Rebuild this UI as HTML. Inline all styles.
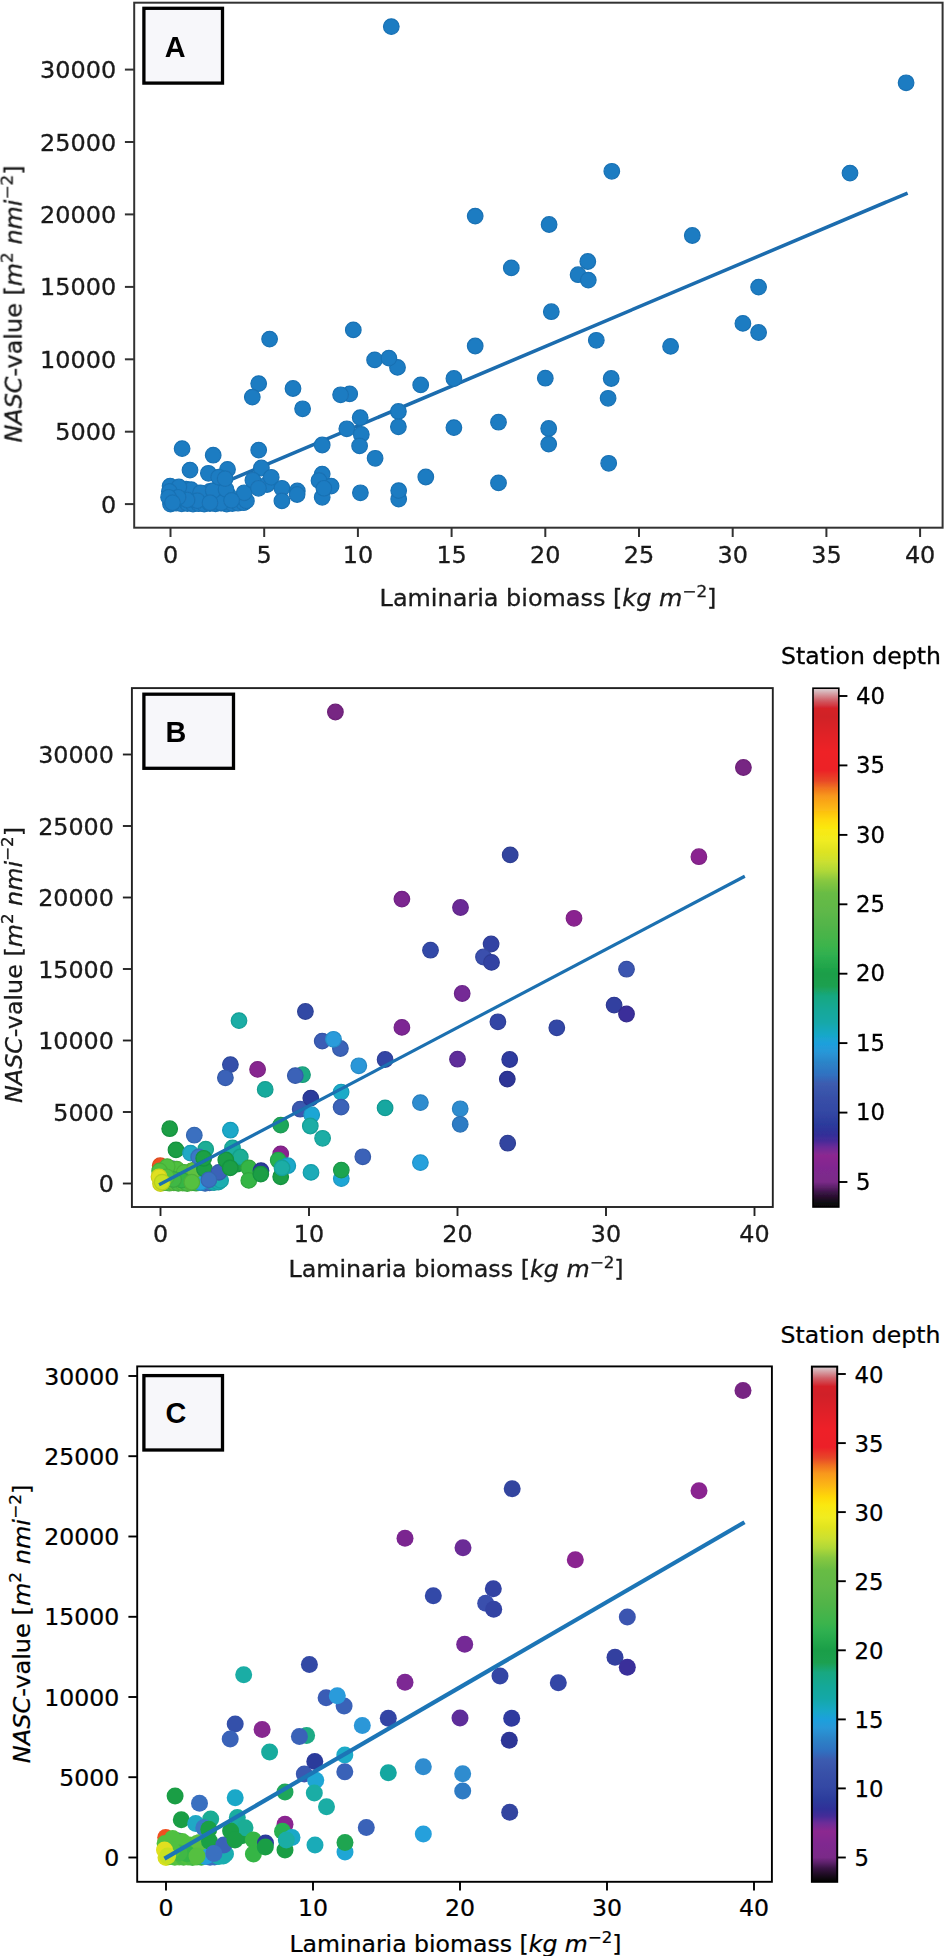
<!DOCTYPE html>
<html><head><meta charset="utf-8"><title>NASC vs Laminaria biomass</title>
<style>html,body{margin:0;padding:0;background:#fff}svg{display:block;font-family:'DejaVu Sans','Liberation Sans',sans-serif}</style>
</head><body>
<svg width="945" height="1956" viewBox="0 0 945 1956">
<rect width="945" height="1956" fill="#fff"/>
<defs><filter id="blurA" x="-5%" y="-5%" width="110%" height="110%"><feGaussianBlur stdDeviation="0.7"/></filter></defs>
<g id="panelA" filter="url(#blurA)">
<line x1="170.5" y1="505.2" x2="906" y2="193.7" stroke="#1a6cae" stroke-width="3.5" stroke-linecap="square"/>
<g>
<circle cx="170.5" cy="504.1" r="7.8" fill="#1c7bc2" stroke="#1a72b4" stroke-width="1.2"/>
<circle cx="176.1" cy="503.2" r="7.8" fill="#1c7bc2" stroke="#1a72b4" stroke-width="1.2"/>
<circle cx="181.7" cy="503.8" r="7.8" fill="#1c7bc2" stroke="#1a72b4" stroke-width="1.2"/>
<circle cx="187.4" cy="503.5" r="7.8" fill="#1c7bc2" stroke="#1a72b4" stroke-width="1.2"/>
<circle cx="193.0" cy="504.0" r="7.8" fill="#1c7bc2" stroke="#1a72b4" stroke-width="1.2"/>
<circle cx="198.6" cy="503.7" r="7.8" fill="#1c7bc2" stroke="#1a72b4" stroke-width="1.2"/>
<circle cx="204.2" cy="504.1" r="7.8" fill="#1c7bc2" stroke="#1a72b4" stroke-width="1.2"/>
<circle cx="209.9" cy="503.5" r="7.8" fill="#1c7bc2" stroke="#1a72b4" stroke-width="1.2"/>
<circle cx="215.5" cy="503.8" r="7.8" fill="#1c7bc2" stroke="#1a72b4" stroke-width="1.2"/>
<circle cx="221.1" cy="503.2" r="7.8" fill="#1c7bc2" stroke="#1a72b4" stroke-width="1.2"/>
<circle cx="226.7" cy="504.0" r="7.8" fill="#1c7bc2" stroke="#1a72b4" stroke-width="1.2"/>
<circle cx="232.3" cy="503.5" r="7.8" fill="#1c7bc2" stroke="#1a72b4" stroke-width="1.2"/>
<circle cx="238.0" cy="503.2" r="7.8" fill="#1c7bc2" stroke="#1a72b4" stroke-width="1.2"/>
<circle cx="243.6" cy="502.7" r="7.8" fill="#1c7bc2" stroke="#1a72b4" stroke-width="1.2"/>
<circle cx="170.1" cy="486.1" r="7.8" fill="#1c7bc2" stroke="#1a72b4" stroke-width="1.2"/>
<circle cx="186.1" cy="489.2" r="7.8" fill="#1c7bc2" stroke="#1a72b4" stroke-width="1.2"/>
<circle cx="187.4" cy="494.0" r="7.8" fill="#1c7bc2" stroke="#1a72b4" stroke-width="1.2"/>
<circle cx="198.6" cy="493.1" r="7.8" fill="#1c7bc2" stroke="#1a72b4" stroke-width="1.2"/>
<circle cx="194.9" cy="499.5" r="7.8" fill="#1c7bc2" stroke="#1a72b4" stroke-width="1.2"/>
<circle cx="208.0" cy="496.6" r="7.8" fill="#1c7bc2" stroke="#1a72b4" stroke-width="1.2"/>
<circle cx="181.7" cy="498.0" r="7.8" fill="#1c7bc2" stroke="#1a72b4" stroke-width="1.2"/>
<circle cx="209.9" cy="491.4" r="7.8" fill="#1c7bc2" stroke="#1a72b4" stroke-width="1.2"/>
<circle cx="174.2" cy="496.9" r="7.8" fill="#1c7bc2" stroke="#1a72b4" stroke-width="1.2"/>
<circle cx="219.2" cy="497.6" r="7.8" fill="#1c7bc2" stroke="#1a72b4" stroke-width="1.2"/>
<circle cx="228.6" cy="495.4" r="7.8" fill="#1c7bc2" stroke="#1a72b4" stroke-width="1.2"/>
<circle cx="191.1" cy="489.6" r="7.8" fill="#1c7bc2" stroke="#1a72b4" stroke-width="1.2"/>
<circle cx="267.0" cy="484.5" r="7.8" fill="#1c7bc2" stroke="#1a72b4" stroke-width="1.2"/>
<circle cx="178.9" cy="487.0" r="7.8" fill="#1c7bc2" stroke="#1a72b4" stroke-width="1.2"/>
<circle cx="169.4" cy="491.5" r="7.8" fill="#1c7bc2" stroke="#1a72b4" stroke-width="1.2"/>
<circle cx="221.1" cy="502.9" r="7.8" fill="#1c7bc2" stroke="#1a72b4" stroke-width="1.2"/>
<circle cx="246.4" cy="500.9" r="7.8" fill="#1c7bc2" stroke="#1a72b4" stroke-width="1.2"/>
<circle cx="200.5" cy="492.8" r="7.8" fill="#1c7bc2" stroke="#1a72b4" stroke-width="1.2"/>
<circle cx="213.2" cy="490.6" r="7.8" fill="#1c7bc2" stroke="#1a72b4" stroke-width="1.2"/>
<circle cx="197.3" cy="500.7" r="7.8" fill="#1c7bc2" stroke="#1a72b4" stroke-width="1.2"/>
<circle cx="187.1" cy="500.0" r="7.8" fill="#1c7bc2" stroke="#1a72b4" stroke-width="1.2"/>
<circle cx="178.1" cy="497.3" r="7.8" fill="#1c7bc2" stroke="#1a72b4" stroke-width="1.2"/>
<circle cx="210.0" cy="502.7" r="7.8" fill="#1c7bc2" stroke="#1a72b4" stroke-width="1.2"/>
<circle cx="168.6" cy="497.3" r="7.8" fill="#1c7bc2" stroke="#1a72b4" stroke-width="1.2"/>
<circle cx="172.5" cy="502.7" r="7.8" fill="#1c7bc2" stroke="#1a72b4" stroke-width="1.2"/>
<circle cx="226.0" cy="489.4" r="7.8" fill="#1c7bc2" stroke="#1a72b4" stroke-width="1.2"/>
<circle cx="244.2" cy="492.8" r="7.8" fill="#1c7bc2" stroke="#1a72b4" stroke-width="1.2"/>
<circle cx="231.6" cy="500.4" r="7.8" fill="#1c7bc2" stroke="#1a72b4" stroke-width="1.2"/>
<circle cx="182.1" cy="448.6" r="7.8" fill="#1c7bc2" stroke="#1a72b4" stroke-width="1.2"/>
<circle cx="213.2" cy="455.2" r="7.8" fill="#1c7bc2" stroke="#1a72b4" stroke-width="1.2"/>
<circle cx="258.7" cy="450.1" r="7.8" fill="#1c7bc2" stroke="#1a72b4" stroke-width="1.2"/>
<circle cx="190.0" cy="470.1" r="7.8" fill="#1c7bc2" stroke="#1a72b4" stroke-width="1.2"/>
<circle cx="208.4" cy="473.3" r="7.8" fill="#1c7bc2" stroke="#1a72b4" stroke-width="1.2"/>
<circle cx="227.5" cy="469.4" r="7.8" fill="#1c7bc2" stroke="#1a72b4" stroke-width="1.2"/>
<circle cx="218.7" cy="477.2" r="7.8" fill="#1c7bc2" stroke="#1a72b4" stroke-width="1.2"/>
<circle cx="225.1" cy="478.6" r="7.8" fill="#1c7bc2" stroke="#1a72b4" stroke-width="1.2"/>
<circle cx="261.4" cy="468.0" r="7.8" fill="#1c7bc2" stroke="#1a72b4" stroke-width="1.2"/>
<circle cx="271.2" cy="477.3" r="7.8" fill="#1c7bc2" stroke="#1a72b4" stroke-width="1.2"/>
<circle cx="252.9" cy="480.2" r="7.8" fill="#1c7bc2" stroke="#1a72b4" stroke-width="1.2"/>
<circle cx="258.5" cy="488.3" r="7.8" fill="#1c7bc2" stroke="#1a72b4" stroke-width="1.2"/>
<circle cx="281.9" cy="488.3" r="7.8" fill="#1c7bc2" stroke="#1a72b4" stroke-width="1.2"/>
<circle cx="281.9" cy="500.9" r="7.8" fill="#1c7bc2" stroke="#1a72b4" stroke-width="1.2"/>
<circle cx="297.3" cy="491.0" r="7.8" fill="#1c7bc2" stroke="#1a72b4" stroke-width="1.2"/>
<circle cx="297.1" cy="494.5" r="7.8" fill="#1c7bc2" stroke="#1a72b4" stroke-width="1.2"/>
<circle cx="322.2" cy="474.1" r="7.8" fill="#1c7bc2" stroke="#1a72b4" stroke-width="1.2"/>
<circle cx="319.0" cy="480.5" r="7.8" fill="#1c7bc2" stroke="#1a72b4" stroke-width="1.2"/>
<circle cx="322.2" cy="497.3" r="7.8" fill="#1c7bc2" stroke="#1a72b4" stroke-width="1.2"/>
<circle cx="331.1" cy="486.1" r="7.8" fill="#1c7bc2" stroke="#1a72b4" stroke-width="1.2"/>
<circle cx="323.9" cy="488.3" r="7.8" fill="#1c7bc2" stroke="#1a72b4" stroke-width="1.2"/>
<circle cx="269.6" cy="339.1" r="7.8" fill="#1c7bc2" stroke="#1a72b4" stroke-width="1.2"/>
<circle cx="353.3" cy="329.9" r="7.8" fill="#1c7bc2" stroke="#1a72b4" stroke-width="1.2"/>
<circle cx="374.6" cy="359.9" r="7.8" fill="#1c7bc2" stroke="#1a72b4" stroke-width="1.2"/>
<circle cx="397.5" cy="367.4" r="7.8" fill="#1c7bc2" stroke="#1a72b4" stroke-width="1.2"/>
<circle cx="388.9" cy="358.1" r="7.8" fill="#1c7bc2" stroke="#1a72b4" stroke-width="1.2"/>
<circle cx="420.7" cy="384.9" r="7.8" fill="#1c7bc2" stroke="#1a72b4" stroke-width="1.2"/>
<circle cx="258.7" cy="383.6" r="7.8" fill="#1c7bc2" stroke="#1a72b4" stroke-width="1.2"/>
<circle cx="252.3" cy="397.1" r="7.8" fill="#1c7bc2" stroke="#1a72b4" stroke-width="1.2"/>
<circle cx="293.0" cy="388.5" r="7.8" fill="#1c7bc2" stroke="#1a72b4" stroke-width="1.2"/>
<circle cx="302.6" cy="408.8" r="7.8" fill="#1c7bc2" stroke="#1a72b4" stroke-width="1.2"/>
<circle cx="349.7" cy="393.9" r="7.8" fill="#1c7bc2" stroke="#1a72b4" stroke-width="1.2"/>
<circle cx="340.6" cy="394.8" r="7.8" fill="#1c7bc2" stroke="#1a72b4" stroke-width="1.2"/>
<circle cx="346.8" cy="428.8" r="7.8" fill="#1c7bc2" stroke="#1a72b4" stroke-width="1.2"/>
<circle cx="360.2" cy="417.6" r="7.8" fill="#1c7bc2" stroke="#1a72b4" stroke-width="1.2"/>
<circle cx="398.4" cy="411.5" r="7.8" fill="#1c7bc2" stroke="#1a72b4" stroke-width="1.2"/>
<circle cx="398.4" cy="426.8" r="7.8" fill="#1c7bc2" stroke="#1a72b4" stroke-width="1.2"/>
<circle cx="361.3" cy="434.4" r="7.8" fill="#1c7bc2" stroke="#1a72b4" stroke-width="1.2"/>
<circle cx="322.2" cy="445.0" r="7.8" fill="#1c7bc2" stroke="#1a72b4" stroke-width="1.2"/>
<circle cx="359.6" cy="445.9" r="7.8" fill="#1c7bc2" stroke="#1a72b4" stroke-width="1.2"/>
<circle cx="375.1" cy="458.3" r="7.8" fill="#1c7bc2" stroke="#1a72b4" stroke-width="1.2"/>
<circle cx="425.8" cy="477.0" r="7.8" fill="#1c7bc2" stroke="#1a72b4" stroke-width="1.2"/>
<circle cx="360.4" cy="492.8" r="7.8" fill="#1c7bc2" stroke="#1a72b4" stroke-width="1.2"/>
<circle cx="398.7" cy="499.1" r="7.8" fill="#1c7bc2" stroke="#1a72b4" stroke-width="1.2"/>
<circle cx="398.7" cy="490.6" r="7.8" fill="#1c7bc2" stroke="#1a72b4" stroke-width="1.2"/>
<circle cx="906.1" cy="82.8" r="7.8" fill="#1c7bc2" stroke="#1a72b4" stroke-width="1.2"/>
<circle cx="850.0" cy="173.1" r="7.8" fill="#1c7bc2" stroke="#1a72b4" stroke-width="1.2"/>
<circle cx="611.8" cy="171.3" r="7.8" fill="#1c7bc2" stroke="#1a72b4" stroke-width="1.2"/>
<circle cx="549.1" cy="224.5" r="7.8" fill="#1c7bc2" stroke="#1a72b4" stroke-width="1.2"/>
<circle cx="692.3" cy="235.5" r="7.8" fill="#1c7bc2" stroke="#1a72b4" stroke-width="1.2"/>
<circle cx="475.2" cy="216.1" r="7.8" fill="#1c7bc2" stroke="#1a72b4" stroke-width="1.2"/>
<circle cx="511.3" cy="267.9" r="7.8" fill="#1c7bc2" stroke="#1a72b4" stroke-width="1.2"/>
<circle cx="587.8" cy="261.5" r="7.8" fill="#1c7bc2" stroke="#1a72b4" stroke-width="1.2"/>
<circle cx="578.1" cy="274.7" r="7.8" fill="#1c7bc2" stroke="#1a72b4" stroke-width="1.2"/>
<circle cx="588.3" cy="280.1" r="7.8" fill="#1c7bc2" stroke="#1a72b4" stroke-width="1.2"/>
<circle cx="758.6" cy="287.1" r="7.8" fill="#1c7bc2" stroke="#1a72b4" stroke-width="1.2"/>
<circle cx="551.3" cy="311.7" r="7.8" fill="#1c7bc2" stroke="#1a72b4" stroke-width="1.2"/>
<circle cx="742.9" cy="323.4" r="7.8" fill="#1c7bc2" stroke="#1a72b4" stroke-width="1.2"/>
<circle cx="758.6" cy="332.5" r="7.8" fill="#1c7bc2" stroke="#1a72b4" stroke-width="1.2"/>
<circle cx="475.2" cy="346.0" r="7.8" fill="#1c7bc2" stroke="#1a72b4" stroke-width="1.2"/>
<circle cx="596.3" cy="340.3" r="7.8" fill="#1c7bc2" stroke="#1a72b4" stroke-width="1.2"/>
<circle cx="670.6" cy="346.4" r="7.8" fill="#1c7bc2" stroke="#1a72b4" stroke-width="1.2"/>
<circle cx="453.9" cy="378.5" r="7.8" fill="#1c7bc2" stroke="#1a72b4" stroke-width="1.2"/>
<circle cx="545.3" cy="378.2" r="7.8" fill="#1c7bc2" stroke="#1a72b4" stroke-width="1.2"/>
<circle cx="611.2" cy="378.5" r="7.8" fill="#1c7bc2" stroke="#1a72b4" stroke-width="1.2"/>
<circle cx="608.1" cy="398.3" r="7.8" fill="#1c7bc2" stroke="#1a72b4" stroke-width="1.2"/>
<circle cx="453.9" cy="427.6" r="7.8" fill="#1c7bc2" stroke="#1a72b4" stroke-width="1.2"/>
<circle cx="498.5" cy="422.2" r="7.8" fill="#1c7bc2" stroke="#1a72b4" stroke-width="1.2"/>
<circle cx="548.7" cy="428.5" r="7.8" fill="#1c7bc2" stroke="#1a72b4" stroke-width="1.2"/>
<circle cx="548.7" cy="444.1" r="7.8" fill="#1c7bc2" stroke="#1a72b4" stroke-width="1.2"/>
<circle cx="608.7" cy="463.3" r="7.8" fill="#1c7bc2" stroke="#1a72b4" stroke-width="1.2"/>
<circle cx="498.5" cy="482.9" r="7.8" fill="#1c7bc2" stroke="#1a72b4" stroke-width="1.2"/>
<circle cx="391.3" cy="26.6" r="7.8" fill="#1c7bc2" stroke="#1a72b4" stroke-width="1.2"/>
</g>
<rect x="134.2" y="2.7" width="808.4000000000001" height="525.0" fill="none" stroke="#333" stroke-width="2"/>
<line x1="170.5" y1="527.7" x2="170.5" y2="537.0" stroke="#333" stroke-width="2"/>
<text transform="translate(170.5,563.2) scale(1.05,1)" text-anchor="middle" font-size="22.8" fill="#1a1a1a" stroke="#1a1a1a" stroke-width="0.3">0</text>
<line x1="264.2" y1="527.7" x2="264.2" y2="537.0" stroke="#333" stroke-width="2"/>
<text transform="translate(264.2,563.2) scale(1.05,1)" text-anchor="middle" font-size="22.8" fill="#1a1a1a" stroke="#1a1a1a" stroke-width="0.3">5</text>
<line x1="357.9" y1="527.7" x2="357.9" y2="537.0" stroke="#333" stroke-width="2"/>
<text transform="translate(357.9,563.2) scale(1.05,1)" text-anchor="middle" font-size="22.8" fill="#1a1a1a" stroke="#1a1a1a" stroke-width="0.3">10</text>
<line x1="451.6" y1="527.7" x2="451.6" y2="537.0" stroke="#333" stroke-width="2"/>
<text transform="translate(451.6,563.2) scale(1.05,1)" text-anchor="middle" font-size="22.8" fill="#1a1a1a" stroke="#1a1a1a" stroke-width="0.3">15</text>
<line x1="545.3" y1="527.7" x2="545.3" y2="537.0" stroke="#333" stroke-width="2"/>
<text transform="translate(545.3,563.2) scale(1.05,1)" text-anchor="middle" font-size="22.8" fill="#1a1a1a" stroke="#1a1a1a" stroke-width="0.3">20</text>
<line x1="639.0" y1="527.7" x2="639.0" y2="537.0" stroke="#333" stroke-width="2"/>
<text transform="translate(639.0,563.2) scale(1.05,1)" text-anchor="middle" font-size="22.8" fill="#1a1a1a" stroke="#1a1a1a" stroke-width="0.3">25</text>
<line x1="732.7" y1="527.7" x2="732.7" y2="537.0" stroke="#333" stroke-width="2"/>
<text transform="translate(732.7,563.2) scale(1.05,1)" text-anchor="middle" font-size="22.8" fill="#1a1a1a" stroke="#1a1a1a" stroke-width="0.3">30</text>
<line x1="826.4" y1="527.7" x2="826.4" y2="537.0" stroke="#333" stroke-width="2"/>
<text transform="translate(826.4,563.2) scale(1.05,1)" text-anchor="middle" font-size="22.8" fill="#1a1a1a" stroke="#1a1a1a" stroke-width="0.3">35</text>
<line x1="920.1" y1="527.7" x2="920.1" y2="537.0" stroke="#333" stroke-width="2"/>
<text transform="translate(920.1,563.2) scale(1.05,1)" text-anchor="middle" font-size="22.8" fill="#1a1a1a" stroke="#1a1a1a" stroke-width="0.3">40</text>
<line x1="124.89999999999999" y1="504.1" x2="134.2" y2="504.1" stroke="#333" stroke-width="2"/>
<text transform="translate(116.19999999999999,512.6) scale(1.05,1)" text-anchor="end" font-size="22.8" fill="#1a1a1a" stroke="#1a1a1a" stroke-width="0.3">0</text>
<line x1="124.89999999999999" y1="431.7" x2="134.2" y2="431.7" stroke="#333" stroke-width="2"/>
<text transform="translate(116.19999999999999,440.2) scale(1.05,1)" text-anchor="end" font-size="22.8" fill="#1a1a1a" stroke="#1a1a1a" stroke-width="0.3">5000</text>
<line x1="124.89999999999999" y1="359.3" x2="134.2" y2="359.3" stroke="#333" stroke-width="2"/>
<text transform="translate(116.19999999999999,367.8) scale(1.05,1)" text-anchor="end" font-size="22.8" fill="#1a1a1a" stroke="#1a1a1a" stroke-width="0.3">10000</text>
<line x1="124.89999999999999" y1="286.9" x2="134.2" y2="286.9" stroke="#333" stroke-width="2"/>
<text transform="translate(116.19999999999999,295.4) scale(1.05,1)" text-anchor="end" font-size="22.8" fill="#1a1a1a" stroke="#1a1a1a" stroke-width="0.3">15000</text>
<line x1="124.89999999999999" y1="214.4" x2="134.2" y2="214.4" stroke="#333" stroke-width="2"/>
<text transform="translate(116.19999999999999,222.9) scale(1.05,1)" text-anchor="end" font-size="22.8" fill="#1a1a1a" stroke="#1a1a1a" stroke-width="0.3">20000</text>
<line x1="124.89999999999999" y1="142.0" x2="134.2" y2="142.0" stroke="#333" stroke-width="2"/>
<text transform="translate(116.19999999999999,150.5) scale(1.05,1)" text-anchor="end" font-size="22.8" fill="#1a1a1a" stroke="#1a1a1a" stroke-width="0.3">25000</text>
<line x1="124.89999999999999" y1="69.6" x2="134.2" y2="69.6" stroke="#333" stroke-width="2"/>
<text transform="translate(116.19999999999999,78.1) scale(1.05,1)" text-anchor="end" font-size="22.8" fill="#1a1a1a" stroke="#1a1a1a" stroke-width="0.3">30000</text>
<text transform="translate(548,605.6) scale(1.05,1)" text-anchor="middle" font-size="22.8" fill="#1a1a1a" stroke="#1a1a1a" stroke-width="0.3">Laminaria biomass [<tspan font-style="italic">kg m</tspan><tspan dy="-9" font-size="16.0">−2</tspan><tspan dy="9">]</tspan></text>
<text transform="translate(21.6,304) rotate(-90) scale(1.05,1)" text-anchor="middle" font-size="22.8" fill="#1a1a1a" stroke="#1a1a1a" stroke-width="0.3"><tspan font-style="italic">NASC</tspan>-value [<tspan font-style="italic">m</tspan><tspan dy="-9" font-size="16.0">2</tspan><tspan dy="9" font-style="italic"> nmi</tspan><tspan dy="-9" font-size="16.0">−2</tspan><tspan dy="9">]</tspan></text>
<rect x="143.9" y="8.3" width="78.6" height="74.8" fill="#f7f7fa" stroke="#000" stroke-width="3.3"/>
<text x="175.2" y="56.6" text-anchor="middle" font-family="'Liberation Sans',Arial,sans-serif" font-weight="bold" font-size="28.8" fill="#000">A</text>
</g>
<defs><filter id="blurB" x="-5%" y="-5%" width="110%" height="110%"><feGaussianBlur stdDeviation="0.7"/></filter></defs>
<g id="panelB" filter="url(#blurB)">
<g>
<circle cx="160.5" cy="1183.5" r="7.8" fill="#d8e020" stroke="#c6ce1d" stroke-width="1.2"/>
<circle cx="165.0" cy="1182.6" r="7.8" fill="#58c040" stroke="#50b03a" stroke-width="1.2"/>
<circle cx="169.4" cy="1183.2" r="7.8" fill="#50c040" stroke="#49b03a" stroke-width="1.2"/>
<circle cx="173.9" cy="1182.9" r="7.8" fill="#58c040" stroke="#50b03a" stroke-width="1.2"/>
<circle cx="178.3" cy="1183.4" r="7.8" fill="#48bc44" stroke="#42ac3e" stroke-width="1.2"/>
<circle cx="182.8" cy="1183.1" r="7.8" fill="#50c040" stroke="#49b03a" stroke-width="1.2"/>
<circle cx="187.2" cy="1183.5" r="7.8" fill="#48bc44" stroke="#42ac3e" stroke-width="1.2"/>
<circle cx="191.7" cy="1182.9" r="7.8" fill="#58c040" stroke="#50b03a" stroke-width="1.2"/>
<circle cx="196.1" cy="1183.2" r="7.8" fill="#35b545" stroke="#30a63f" stroke-width="1.2"/>
<circle cx="200.6" cy="1182.6" r="7.8" fill="#25a0dc" stroke="#2293ca" stroke-width="1.2"/>
<circle cx="205.1" cy="1183.4" r="7.8" fill="#3a70c0" stroke="#3567b0" stroke-width="1.2"/>
<circle cx="209.5" cy="1182.9" r="7.8" fill="#3a70c0" stroke="#3567b0" stroke-width="1.2"/>
<circle cx="214.0" cy="1182.6" r="7.8" fill="#1aadb0" stroke="#179fa1" stroke-width="1.2"/>
<circle cx="218.4" cy="1182.1" r="7.8" fill="#1aadb0" stroke="#179fa1" stroke-width="1.2"/>
<circle cx="160.2" cy="1165.7" r="7.8" fill="#f05020" stroke="#dc491d" stroke-width="1.2"/>
<circle cx="172.8" cy="1168.8" r="7.8" fill="#2b3b9b" stroke="#27368e" stroke-width="1.2"/>
<circle cx="173.9" cy="1173.5" r="7.8" fill="#50c040" stroke="#49b03a" stroke-width="1.2"/>
<circle cx="182.8" cy="1172.6" r="7.8" fill="#58c040" stroke="#50b03a" stroke-width="1.2"/>
<circle cx="179.8" cy="1178.9" r="7.8" fill="#50c040" stroke="#49b03a" stroke-width="1.2"/>
<circle cx="190.2" cy="1176.1" r="7.8" fill="#58c040" stroke="#50b03a" stroke-width="1.2"/>
<circle cx="169.4" cy="1177.5" r="7.8" fill="#50c040" stroke="#49b03a" stroke-width="1.2"/>
<circle cx="191.7" cy="1170.9" r="7.8" fill="#58c040" stroke="#50b03a" stroke-width="1.2"/>
<circle cx="163.5" cy="1176.3" r="7.8" fill="#58c040" stroke="#50b03a" stroke-width="1.2"/>
<circle cx="199.1" cy="1177.1" r="7.8" fill="#35b545" stroke="#30a63f" stroke-width="1.2"/>
<circle cx="206.5" cy="1174.9" r="7.8" fill="#1aa045" stroke="#17933f" stroke-width="1.2"/>
<circle cx="176.8" cy="1169.2" r="7.8" fill="#50c040" stroke="#49b03a" stroke-width="1.2"/>
<circle cx="237.0" cy="1164.2" r="7.8" fill="#1a9e45" stroke="#17913f" stroke-width="1.2"/>
<circle cx="167.2" cy="1166.6" r="7.8" fill="#50c040" stroke="#49b03a" stroke-width="1.2"/>
<circle cx="159.6" cy="1171.0" r="7.8" fill="#50c040" stroke="#49b03a" stroke-width="1.2"/>
<circle cx="200.6" cy="1182.3" r="7.8" fill="#25a0dc" stroke="#2293ca" stroke-width="1.2"/>
<circle cx="220.6" cy="1180.4" r="7.8" fill="#1aadb0" stroke="#179fa1" stroke-width="1.2"/>
<circle cx="184.2" cy="1172.4" r="7.8" fill="#50c040" stroke="#49b03a" stroke-width="1.2"/>
<circle cx="194.3" cy="1170.1" r="7.8" fill="#60c040" stroke="#58b03a" stroke-width="1.2"/>
<circle cx="181.7" cy="1180.1" r="7.8" fill="#35b545" stroke="#30a63f" stroke-width="1.2"/>
<circle cx="173.6" cy="1179.5" r="7.8" fill="#40b845" stroke="#3aa93f" stroke-width="1.2"/>
<circle cx="166.6" cy="1176.8" r="7.8" fill="#50c040" stroke="#49b03a" stroke-width="1.2"/>
<circle cx="191.8" cy="1182.2" r="7.8" fill="#55c040" stroke="#4eb03a" stroke-width="1.2"/>
<circle cx="159.0" cy="1176.8" r="7.8" fill="#e0e020" stroke="#cece1d" stroke-width="1.2"/>
<circle cx="162.1" cy="1182.2" r="7.8" fill="#c8e020" stroke="#b8ce1d" stroke-width="1.2"/>
<circle cx="204.4" cy="1169.0" r="7.8" fill="#1aa045" stroke="#17933f" stroke-width="1.2"/>
<circle cx="218.9" cy="1172.4" r="7.8" fill="#3a62b8" stroke="#355aa9" stroke-width="1.2"/>
<circle cx="208.9" cy="1179.8" r="7.8" fill="#3a70c0" stroke="#3567b0" stroke-width="1.2"/>
<circle cx="169.7" cy="1128.7" r="7.8" fill="#1a9e45" stroke="#17913f" stroke-width="1.2"/>
<circle cx="194.3" cy="1135.2" r="7.8" fill="#3a70c0" stroke="#3567b0" stroke-width="1.2"/>
<circle cx="230.4" cy="1130.2" r="7.8" fill="#1aa8c8" stroke="#179ab8" stroke-width="1.2"/>
<circle cx="176.0" cy="1149.9" r="7.8" fill="#1a9e45" stroke="#17913f" stroke-width="1.2"/>
<circle cx="190.5" cy="1153.1" r="7.8" fill="#20a8c5" stroke="#1d9ab5" stroke-width="1.2"/>
<circle cx="205.7" cy="1149.2" r="7.8" fill="#1aad95" stroke="#179f89" stroke-width="1.2"/>
<circle cx="198.7" cy="1156.9" r="7.8" fill="#3a78c5" stroke="#356eb5" stroke-width="1.2"/>
<circle cx="203.7" cy="1158.3" r="7.8" fill="#1aa045" stroke="#17933f" stroke-width="1.2"/>
<circle cx="232.5" cy="1147.9" r="7.8" fill="#1aada0" stroke="#179f93" stroke-width="1.2"/>
<circle cx="240.3" cy="1157.0" r="7.8" fill="#1aad95" stroke="#179f89" stroke-width="1.2"/>
<circle cx="225.8" cy="1159.9" r="7.8" fill="#1a9e45" stroke="#17913f" stroke-width="1.2"/>
<circle cx="230.2" cy="1167.9" r="7.8" fill="#1a9e45" stroke="#17913f" stroke-width="1.2"/>
<circle cx="248.8" cy="1167.9" r="7.8" fill="#35b545" stroke="#30a63f" stroke-width="1.2"/>
<circle cx="248.8" cy="1180.4" r="7.8" fill="#35b545" stroke="#30a63f" stroke-width="1.2"/>
<circle cx="261.0" cy="1170.6" r="7.8" fill="#2b3b9b" stroke="#27368e" stroke-width="1.2"/>
<circle cx="260.8" cy="1174.1" r="7.8" fill="#1a9e45" stroke="#17913f" stroke-width="1.2"/>
<circle cx="280.7" cy="1153.9" r="7.8" fill="#8a2490" stroke="#7e2184" stroke-width="1.2"/>
<circle cx="278.2" cy="1160.2" r="7.8" fill="#28b050" stroke="#24a149" stroke-width="1.2"/>
<circle cx="280.7" cy="1176.8" r="7.8" fill="#1a9e45" stroke="#17913f" stroke-width="1.2"/>
<circle cx="287.8" cy="1165.7" r="7.8" fill="#1aa8c8" stroke="#179ab8" stroke-width="1.2"/>
<circle cx="282.0" cy="1167.9" r="7.8" fill="#1aada5" stroke="#179f97" stroke-width="1.2"/>
<circle cx="239.0" cy="1020.6" r="7.8" fill="#1aada5" stroke="#179f97" stroke-width="1.2"/>
<circle cx="305.4" cy="1011.5" r="7.8" fill="#3349a5" stroke="#2e4397" stroke-width="1.2"/>
<circle cx="322.2" cy="1041.1" r="7.8" fill="#3a5cb5" stroke="#3554a6" stroke-width="1.2"/>
<circle cx="340.4" cy="1048.5" r="7.8" fill="#3a62b8" stroke="#355aa9" stroke-width="1.2"/>
<circle cx="333.5" cy="1039.3" r="7.8" fill="#2a9bdb" stroke="#268ec9" stroke-width="1.2"/>
<circle cx="358.8" cy="1065.8" r="7.8" fill="#2b97d8" stroke="#278ac6" stroke-width="1.2"/>
<circle cx="230.4" cy="1064.6" r="7.8" fill="#3450aa" stroke="#2f499c" stroke-width="1.2"/>
<circle cx="225.4" cy="1077.8" r="7.8" fill="#3a62b8" stroke="#355aa9" stroke-width="1.2"/>
<circle cx="257.6" cy="1069.4" r="7.8" fill="#872890" stroke="#7c2484" stroke-width="1.2"/>
<circle cx="265.2" cy="1089.4" r="7.8" fill="#17ab9d" stroke="#159d90" stroke-width="1.2"/>
<circle cx="302.5" cy="1074.7" r="7.8" fill="#1daa85" stroke="#1a9c7a" stroke-width="1.2"/>
<circle cx="295.3" cy="1075.6" r="7.8" fill="#3a62b8" stroke="#355aa9" stroke-width="1.2"/>
<circle cx="300.2" cy="1109.2" r="7.8" fill="#3a58b0" stroke="#3550a1" stroke-width="1.2"/>
<circle cx="310.8" cy="1098.1" r="7.8" fill="#2b3b9b" stroke="#27368e" stroke-width="1.2"/>
<circle cx="341.1" cy="1092.1" r="7.8" fill="#1dabc8" stroke="#1a9db8" stroke-width="1.2"/>
<circle cx="341.1" cy="1107.1" r="7.8" fill="#3a62b8" stroke="#355aa9" stroke-width="1.2"/>
<circle cx="311.7" cy="1114.7" r="7.8" fill="#1fa6d5" stroke="#1c98c3" stroke-width="1.2"/>
<circle cx="280.7" cy="1125.1" r="7.8" fill="#1fa75a" stroke="#1c9952" stroke-width="1.2"/>
<circle cx="310.3" cy="1126.0" r="7.8" fill="#1aada5" stroke="#179f97" stroke-width="1.2"/>
<circle cx="322.6" cy="1138.3" r="7.8" fill="#1aada5" stroke="#179f97" stroke-width="1.2"/>
<circle cx="362.8" cy="1156.8" r="7.8" fill="#3a62b8" stroke="#355aa9" stroke-width="1.2"/>
<circle cx="311.0" cy="1172.4" r="7.8" fill="#1aabb8" stroke="#179da9" stroke-width="1.2"/>
<circle cx="341.3" cy="1178.6" r="7.8" fill="#1fa6d5" stroke="#1c98c3" stroke-width="1.2"/>
<circle cx="341.3" cy="1170.1" r="7.8" fill="#1fa550" stroke="#1c9749" stroke-width="1.2"/>
<circle cx="743.4" cy="767.5" r="7.8" fill="#772583" stroke="#6d2278" stroke-width="1.2"/>
<circle cx="698.9" cy="856.7" r="7.8" fill="#8a2490" stroke="#7e2184" stroke-width="1.2"/>
<circle cx="510.2" cy="854.9" r="7.8" fill="#33459f" stroke="#2e3f92" stroke-width="1.2"/>
<circle cx="460.5" cy="907.5" r="7.8" fill="#6b2b96" stroke="#62278a" stroke-width="1.2"/>
<circle cx="574.0" cy="918.3" r="7.8" fill="#8a2490" stroke="#7e2184" stroke-width="1.2"/>
<circle cx="401.9" cy="899.1" r="7.8" fill="#7b2590" stroke="#712284" stroke-width="1.2"/>
<circle cx="430.5" cy="950.2" r="7.8" fill="#3349a8" stroke="#2e439a" stroke-width="1.2"/>
<circle cx="491.1" cy="944.0" r="7.8" fill="#3343a3" stroke="#2e3d95" stroke-width="1.2"/>
<circle cx="483.5" cy="957.0" r="7.8" fill="#3a4fad" stroke="#35489f" stroke-width="1.2"/>
<circle cx="491.5" cy="962.4" r="7.8" fill="#3343a3" stroke="#2e3d95" stroke-width="1.2"/>
<circle cx="626.5" cy="969.2" r="7.8" fill="#3b55b0" stroke="#364ea1" stroke-width="1.2"/>
<circle cx="462.2" cy="993.5" r="7.8" fill="#752996" stroke="#6b258a" stroke-width="1.2"/>
<circle cx="614.1" cy="1005.1" r="7.8" fill="#3340a0" stroke="#2e3a93" stroke-width="1.2"/>
<circle cx="626.5" cy="1014.0" r="7.8" fill="#3a2f9a" stroke="#352b8d" stroke-width="1.2"/>
<circle cx="401.9" cy="1027.4" r="7.8" fill="#7d2894" stroke="#732488" stroke-width="1.2"/>
<circle cx="497.9" cy="1021.8" r="7.8" fill="#3345a5" stroke="#2e3f97" stroke-width="1.2"/>
<circle cx="556.8" cy="1027.8" r="7.8" fill="#3346a6" stroke="#2e4098" stroke-width="1.2"/>
<circle cx="385.1" cy="1059.5" r="7.8" fill="#3345a5" stroke="#2e3f97" stroke-width="1.2"/>
<circle cx="457.5" cy="1059.2" r="7.8" fill="#5e2d9a" stroke="#56298d" stroke-width="1.2"/>
<circle cx="509.7" cy="1059.5" r="7.8" fill="#2f3a9f" stroke="#2b3592" stroke-width="1.2"/>
<circle cx="507.3" cy="1079.1" r="7.8" fill="#2d3596" stroke="#29308a" stroke-width="1.2"/>
<circle cx="385.1" cy="1107.9" r="7.8" fill="#14a7a0" stroke="#129993" stroke-width="1.2"/>
<circle cx="420.4" cy="1102.6" r="7.8" fill="#2f8ccf" stroke="#2b80be" stroke-width="1.2"/>
<circle cx="460.2" cy="1108.8" r="7.8" fill="#2f8ccf" stroke="#2b80be" stroke-width="1.2"/>
<circle cx="460.2" cy="1124.3" r="7.8" fill="#2e7bc4" stroke="#2a71b4" stroke-width="1.2"/>
<circle cx="507.7" cy="1143.2" r="7.8" fill="#3345a0" stroke="#2e3f93" stroke-width="1.2"/>
<circle cx="420.4" cy="1162.6" r="7.8" fill="#25a0dc" stroke="#2293ca" stroke-width="1.2"/>
<circle cx="335.4" cy="712.0" r="7.8" fill="#772583" stroke="#6d2278" stroke-width="1.2"/>
</g>
<line x1="160.5" y1="1184" x2="743.4" y2="877" stroke="#1a6fb0" stroke-width="3.2" stroke-linecap="square"/>
<rect x="131.9" y="688.1" width="640.9" height="518.9" fill="none" stroke="#222" stroke-width="1.9"/>
<line x1="160.5" y1="1207.0" x2="160.5" y2="1216.0" stroke="#222" stroke-width="1.9"/>
<text transform="translate(160.5,1241.9) scale(1.045,1)" text-anchor="middle" font-size="22.8" fill="#1a1a1a" stroke="#1a1a1a" stroke-width="0.3">0</text>
<line x1="309.0" y1="1207.0" x2="309.0" y2="1216.0" stroke="#222" stroke-width="1.9"/>
<text transform="translate(309.0,1241.9) scale(1.045,1)" text-anchor="middle" font-size="22.8" fill="#1a1a1a" stroke="#1a1a1a" stroke-width="0.3">10</text>
<line x1="457.5" y1="1207.0" x2="457.5" y2="1216.0" stroke="#222" stroke-width="1.9"/>
<text transform="translate(457.5,1241.9) scale(1.045,1)" text-anchor="middle" font-size="22.8" fill="#1a1a1a" stroke="#1a1a1a" stroke-width="0.3">20</text>
<line x1="606.0" y1="1207.0" x2="606.0" y2="1216.0" stroke="#222" stroke-width="1.9"/>
<text transform="translate(606.0,1241.9) scale(1.045,1)" text-anchor="middle" font-size="22.8" fill="#1a1a1a" stroke="#1a1a1a" stroke-width="0.3">30</text>
<line x1="754.5" y1="1207.0" x2="754.5" y2="1216.0" stroke="#222" stroke-width="1.9"/>
<text transform="translate(754.5,1241.9) scale(1.045,1)" text-anchor="middle" font-size="22.8" fill="#1a1a1a" stroke="#1a1a1a" stroke-width="0.3">40</text>
<line x1="122.9" y1="1183.5" x2="131.9" y2="1183.5" stroke="#222" stroke-width="1.9"/>
<text transform="translate(113.9,1192.0) scale(1.045,1)" text-anchor="end" font-size="22.8" fill="#1a1a1a" stroke="#1a1a1a" stroke-width="0.3">0</text>
<line x1="122.9" y1="1112.0" x2="131.9" y2="1112.0" stroke="#222" stroke-width="1.9"/>
<text transform="translate(113.9,1120.5) scale(1.045,1)" text-anchor="end" font-size="22.8" fill="#1a1a1a" stroke="#1a1a1a" stroke-width="0.3">5000</text>
<line x1="122.9" y1="1040.5" x2="131.9" y2="1040.5" stroke="#222" stroke-width="1.9"/>
<text transform="translate(113.9,1049.0) scale(1.045,1)" text-anchor="end" font-size="22.8" fill="#1a1a1a" stroke="#1a1a1a" stroke-width="0.3">10000</text>
<line x1="122.9" y1="969.0" x2="131.9" y2="969.0" stroke="#222" stroke-width="1.9"/>
<text transform="translate(113.9,977.5) scale(1.045,1)" text-anchor="end" font-size="22.8" fill="#1a1a1a" stroke="#1a1a1a" stroke-width="0.3">15000</text>
<line x1="122.9" y1="897.5" x2="131.9" y2="897.5" stroke="#222" stroke-width="1.9"/>
<text transform="translate(113.9,906.0) scale(1.045,1)" text-anchor="end" font-size="22.8" fill="#1a1a1a" stroke="#1a1a1a" stroke-width="0.3">20000</text>
<line x1="122.9" y1="826.0" x2="131.9" y2="826.0" stroke="#222" stroke-width="1.9"/>
<text transform="translate(113.9,834.5) scale(1.045,1)" text-anchor="end" font-size="22.8" fill="#1a1a1a" stroke="#1a1a1a" stroke-width="0.3">25000</text>
<line x1="122.9" y1="754.5" x2="131.9" y2="754.5" stroke="#222" stroke-width="1.9"/>
<text transform="translate(113.9,763.0) scale(1.045,1)" text-anchor="end" font-size="22.8" fill="#1a1a1a" stroke="#1a1a1a" stroke-width="0.3">30000</text>
<text transform="translate(456,1277.2) scale(1.045,1)" text-anchor="middle" font-size="22.8" fill="#1a1a1a" stroke="#1a1a1a" stroke-width="0.3">Laminaria biomass [<tspan font-style="italic">kg m</tspan><tspan dy="-9" font-size="16.0">−2</tspan><tspan dy="9">]</tspan></text>
<text transform="translate(21.6,965) rotate(-90) scale(1.045,1)" text-anchor="middle" font-size="22.8" fill="#1a1a1a" stroke="#1a1a1a" stroke-width="0.3"><tspan font-style="italic">NASC</tspan>-value [<tspan font-style="italic">m</tspan><tspan dy="-9" font-size="16.0">2</tspan><tspan dy="9" font-style="italic"> nmi</tspan><tspan dy="-9" font-size="16.0">−2</tspan><tspan dy="9">]</tspan></text>
<rect x="143.9" y="694.2" width="89.6" height="74.1" fill="#f7f7fa" stroke="#000" stroke-width="3.3"/>
<text x="175.9" y="741.9" text-anchor="middle" font-family="'Liberation Sans',Arial,sans-serif" font-weight="bold" font-size="28.8" fill="#000">B</text>
<defs><linearGradient id="gradB" x1="0" y1="0" x2="0" y2="1">
<stop offset="0.0000" stop-color="#dcc8cc"/>
<stop offset="0.0043" stop-color="#d8c0c4"/>
<stop offset="0.0231" stop-color="#d06068"/>
<stop offset="0.0391" stop-color="#d42028"/>
<stop offset="0.0552" stop-color="#d02028"/>
<stop offset="0.0900" stop-color="#e02028"/>
<stop offset="0.1221" stop-color="#ee2028"/>
<stop offset="0.1569" stop-color="#ec2028"/>
<stop offset="0.1783" stop-color="#e84828"/>
<stop offset="0.1917" stop-color="#f07020"/>
<stop offset="0.2077" stop-color="#f8981c"/>
<stop offset="0.2318" stop-color="#fcb814"/>
<stop offset="0.2532" stop-color="#fed808"/>
<stop offset="0.2693" stop-color="#fae810"/>
<stop offset="0.2934" stop-color="#f0ec20"/>
<stop offset="0.3121" stop-color="#e0e420"/>
<stop offset="0.3335" stop-color="#cce030"/>
<stop offset="0.3523" stop-color="#b0d838"/>
<stop offset="0.3710" stop-color="#88c840"/>
<stop offset="0.3951" stop-color="#68bc44"/>
<stop offset="0.4272" stop-color="#60b848"/>
<stop offset="0.4620" stop-color="#50b448"/>
<stop offset="0.4968" stop-color="#3cb44c"/>
<stop offset="0.5129" stop-color="#30b050"/>
<stop offset="0.5316" stop-color="#24a84c"/>
<stop offset="0.5503" stop-color="#1a9e48"/>
<stop offset="0.5744" stop-color="#1ca050"/>
<stop offset="0.5932" stop-color="#18a880"/>
<stop offset="0.6199" stop-color="#14a898"/>
<stop offset="0.6440" stop-color="#14a8a8"/>
<stop offset="0.6681" stop-color="#18a8c8"/>
<stop offset="0.6842" stop-color="#1ca0dc"/>
<stop offset="0.7002" stop-color="#2898d8"/>
<stop offset="0.7216" stop-color="#2c84c8"/>
<stop offset="0.7457" stop-color="#3070c0"/>
<stop offset="0.7618" stop-color="#3c5cb0"/>
<stop offset="0.7885" stop-color="#3850a8"/>
<stop offset="0.8153" stop-color="#3448a4"/>
<stop offset="0.8394" stop-color="#2c3c9c"/>
<stop offset="0.8581" stop-color="#303098"/>
<stop offset="0.8715" stop-color="#442c98"/>
<stop offset="0.8849" stop-color="#6c2c98"/>
<stop offset="0.9010" stop-color="#8c2890"/>
<stop offset="0.9250" stop-color="#802890"/>
<stop offset="0.9518" stop-color="#7a2a88"/>
<stop offset="0.9625" stop-color="#5a2068"/>
<stop offset="0.9724" stop-color="#3a1445"/>
<stop offset="0.9845" stop-color="#1f0c24"/>
<stop offset="0.9944" stop-color="#0a070a"/>
<stop offset="0.9981" stop-color="#060606"/>
</linearGradient></defs>
<rect x="813.0" y="688.2" width="25.799999999999955" height="518.8" fill="url(#gradB)" stroke="#000" stroke-width="1.6"/>
<line x1="838.8" y1="1182.0" x2="847.4" y2="1182.0" stroke="#000" stroke-width="1.9"/>
<text transform="translate(856.0,1189.7) scale(1.0,1)" text-anchor="start" font-size="22.8" fill="#000" stroke="#000" stroke-width="0.3">5</text>
<line x1="838.8" y1="1112.6" x2="847.4" y2="1112.6" stroke="#000" stroke-width="1.9"/>
<text transform="translate(856.0,1120.3) scale(1.0,1)" text-anchor="start" font-size="22.8" fill="#000" stroke="#000" stroke-width="0.3">10</text>
<line x1="838.8" y1="1043.1" x2="847.4" y2="1043.1" stroke="#000" stroke-width="1.9"/>
<text transform="translate(856.0,1050.8) scale(1.0,1)" text-anchor="start" font-size="22.8" fill="#000" stroke="#000" stroke-width="0.3">15</text>
<line x1="838.8" y1="973.7" x2="847.4" y2="973.7" stroke="#000" stroke-width="1.9"/>
<text transform="translate(856.0,981.4) scale(1.0,1)" text-anchor="start" font-size="22.8" fill="#000" stroke="#000" stroke-width="0.3">20</text>
<line x1="838.8" y1="904.3" x2="847.4" y2="904.3" stroke="#000" stroke-width="1.9"/>
<text transform="translate(856.0,912.0) scale(1.0,1)" text-anchor="start" font-size="22.8" fill="#000" stroke="#000" stroke-width="0.3">25</text>
<line x1="838.8" y1="834.9" x2="847.4" y2="834.9" stroke="#000" stroke-width="1.9"/>
<text transform="translate(856.0,842.6) scale(1.0,1)" text-anchor="start" font-size="22.8" fill="#000" stroke="#000" stroke-width="0.3">30</text>
<line x1="838.8" y1="765.4" x2="847.4" y2="765.4" stroke="#000" stroke-width="1.9"/>
<text transform="translate(856.0,773.1) scale(1.0,1)" text-anchor="start" font-size="22.8" fill="#000" stroke="#000" stroke-width="0.3">35</text>
<line x1="838.8" y1="696.0" x2="847.4" y2="696.0" stroke="#000" stroke-width="1.9"/>
<text transform="translate(856.0,703.7) scale(1.0,1)" text-anchor="start" font-size="22.8" fill="#000" stroke="#000" stroke-width="0.3">40</text>
<text transform="translate(861,663.5) scale(1.035,1)" text-anchor="middle" font-size="22.8" fill="#000" stroke="#000" stroke-width="0.3">Station depth</text>
</g>
<g id="panelC">
<g>
<circle cx="166.0" cy="1857.5" r="8.5" fill="#d8e020"/>
<circle cx="170.4" cy="1856.5" r="8.5" fill="#58c040"/>
<circle cx="174.8" cy="1857.2" r="8.5" fill="#50c040"/>
<circle cx="179.2" cy="1856.9" r="8.5" fill="#58c040"/>
<circle cx="183.6" cy="1857.3" r="8.5" fill="#48bc44"/>
<circle cx="188.1" cy="1857.0" r="8.5" fill="#50c040"/>
<circle cx="192.5" cy="1857.5" r="8.5" fill="#48bc44"/>
<circle cx="196.9" cy="1856.9" r="8.5" fill="#58c040"/>
<circle cx="201.3" cy="1857.2" r="8.5" fill="#35b545"/>
<circle cx="205.7" cy="1856.5" r="8.5" fill="#25a0dc"/>
<circle cx="210.1" cy="1857.3" r="8.5" fill="#3a70c0"/>
<circle cx="214.5" cy="1856.9" r="8.5" fill="#3a70c0"/>
<circle cx="218.9" cy="1856.5" r="8.5" fill="#1aadb0"/>
<circle cx="223.3" cy="1855.9" r="8.5" fill="#1aadb0"/>
<circle cx="165.7" cy="1837.5" r="8.5" fill="#f05020"/>
<circle cx="178.2" cy="1841.0" r="8.5" fill="#2b3b9b"/>
<circle cx="179.2" cy="1846.3" r="8.5" fill="#50c040"/>
<circle cx="188.1" cy="1845.3" r="8.5" fill="#58c040"/>
<circle cx="185.1" cy="1852.4" r="8.5" fill="#50c040"/>
<circle cx="195.4" cy="1849.2" r="8.5" fill="#58c040"/>
<circle cx="174.8" cy="1850.8" r="8.5" fill="#50c040"/>
<circle cx="196.9" cy="1843.4" r="8.5" fill="#58c040"/>
<circle cx="168.9" cy="1849.5" r="8.5" fill="#58c040"/>
<circle cx="204.2" cy="1850.3" r="8.5" fill="#35b545"/>
<circle cx="211.6" cy="1847.9" r="8.5" fill="#1aa045"/>
<circle cx="182.2" cy="1841.5" r="8.5" fill="#50c040"/>
<circle cx="241.7" cy="1835.8" r="8.5" fill="#1a9e45"/>
<circle cx="172.6" cy="1838.5" r="8.5" fill="#50c040"/>
<circle cx="165.1" cy="1843.5" r="8.5" fill="#50c040"/>
<circle cx="205.7" cy="1856.2" r="8.5" fill="#25a0dc"/>
<circle cx="225.5" cy="1854.0" r="8.5" fill="#1aadb0"/>
<circle cx="189.5" cy="1845.0" r="8.5" fill="#50c040"/>
<circle cx="199.5" cy="1842.5" r="8.5" fill="#60c040"/>
<circle cx="187.0" cy="1853.7" r="8.5" fill="#35b545"/>
<circle cx="179.0" cy="1853.0" r="8.5" fill="#40b845"/>
<circle cx="172.0" cy="1850.0" r="8.5" fill="#50c040"/>
<circle cx="197.0" cy="1856.0" r="8.5" fill="#55c040"/>
<circle cx="164.5" cy="1850.0" r="8.5" fill="#e0e020"/>
<circle cx="167.6" cy="1856.0" r="8.5" fill="#c8e020"/>
<circle cx="209.5" cy="1841.2" r="8.5" fill="#1aa045"/>
<circle cx="223.8" cy="1845.0" r="8.5" fill="#3a62b8"/>
<circle cx="213.9" cy="1853.4" r="8.5" fill="#3a70c0"/>
<circle cx="175.1" cy="1796.0" r="8.5" fill="#1a9e45"/>
<circle cx="199.5" cy="1803.3" r="8.5" fill="#3a70c0"/>
<circle cx="235.2" cy="1797.7" r="8.5" fill="#1aa8c8"/>
<circle cx="181.3" cy="1819.8" r="8.5" fill="#1a9e45"/>
<circle cx="195.7" cy="1823.4" r="8.5" fill="#20a8c5"/>
<circle cx="210.7" cy="1819.0" r="8.5" fill="#1aad95"/>
<circle cx="203.8" cy="1827.7" r="8.5" fill="#3a78c5"/>
<circle cx="208.8" cy="1829.2" r="8.5" fill="#1aa045"/>
<circle cx="237.3" cy="1817.5" r="8.5" fill="#1aada0"/>
<circle cx="245.0" cy="1827.8" r="8.5" fill="#1aad95"/>
<circle cx="230.6" cy="1831.0" r="8.5" fill="#1a9e45"/>
<circle cx="235.0" cy="1840.0" r="8.5" fill="#1a9e45"/>
<circle cx="253.4" cy="1840.0" r="8.5" fill="#35b545"/>
<circle cx="253.4" cy="1854.0" r="8.5" fill="#35b545"/>
<circle cx="265.5" cy="1843.0" r="8.5" fill="#2b3b9b"/>
<circle cx="265.3" cy="1846.9" r="8.5" fill="#1a9e45"/>
<circle cx="285.0" cy="1824.3" r="8.5" fill="#8a2490"/>
<circle cx="282.5" cy="1831.3" r="8.5" fill="#28b050"/>
<circle cx="285.0" cy="1850.0" r="8.5" fill="#1a9e45"/>
<circle cx="292.0" cy="1837.5" r="8.5" fill="#1aa8c8"/>
<circle cx="286.3" cy="1840.0" r="8.5" fill="#1aada5"/>
<circle cx="243.7" cy="1674.7" r="8.5" fill="#1aada5"/>
<circle cx="309.4" cy="1664.5" r="8.5" fill="#3349a5"/>
<circle cx="326.1" cy="1697.7" r="8.5" fill="#3a5cb5"/>
<circle cx="344.1" cy="1706.0" r="8.5" fill="#3a62b8"/>
<circle cx="337.3" cy="1695.7" r="8.5" fill="#2a9bdb"/>
<circle cx="362.3" cy="1725.4" r="8.5" fill="#2b97d8"/>
<circle cx="235.2" cy="1724.0" r="8.5" fill="#3450aa"/>
<circle cx="230.2" cy="1738.9" r="8.5" fill="#3a62b8"/>
<circle cx="262.1" cy="1729.4" r="8.5" fill="#872890"/>
<circle cx="269.6" cy="1751.9" r="8.5" fill="#17ab9d"/>
<circle cx="306.6" cy="1735.4" r="8.5" fill="#1daa85"/>
<circle cx="299.4" cy="1736.4" r="8.5" fill="#3a62b8"/>
<circle cx="304.3" cy="1774.1" r="8.5" fill="#3a58b0"/>
<circle cx="314.8" cy="1761.6" r="8.5" fill="#2b3b9b"/>
<circle cx="344.8" cy="1754.9" r="8.5" fill="#1dabc8"/>
<circle cx="344.8" cy="1771.8" r="8.5" fill="#3a62b8"/>
<circle cx="315.7" cy="1780.3" r="8.5" fill="#1fa6d5"/>
<circle cx="285.0" cy="1792.0" r="8.5" fill="#1fa75a"/>
<circle cx="314.3" cy="1793.0" r="8.5" fill="#1aada5"/>
<circle cx="326.5" cy="1806.8" r="8.5" fill="#1aada5"/>
<circle cx="366.3" cy="1827.5" r="8.5" fill="#3a62b8"/>
<circle cx="315.0" cy="1845.0" r="8.5" fill="#1aabb8"/>
<circle cx="345.0" cy="1852.0" r="8.5" fill="#1fa6d5"/>
<circle cx="345.0" cy="1842.5" r="8.5" fill="#1fa550"/>
<circle cx="743.0" cy="1390.6" r="8.5" fill="#772583"/>
<circle cx="699.0" cy="1490.7" r="8.5" fill="#8a2490"/>
<circle cx="512.2" cy="1488.7" r="8.5" fill="#33459f"/>
<circle cx="463.0" cy="1547.7" r="8.5" fill="#6b2b96"/>
<circle cx="575.3" cy="1559.8" r="8.5" fill="#8a2490"/>
<circle cx="405.0" cy="1538.3" r="8.5" fill="#7b2590"/>
<circle cx="433.3" cy="1595.7" r="8.5" fill="#3349a8"/>
<circle cx="493.3" cy="1588.7" r="8.5" fill="#3343a3"/>
<circle cx="485.7" cy="1603.3" r="8.5" fill="#3a4fad"/>
<circle cx="493.7" cy="1609.3" r="8.5" fill="#3343a3"/>
<circle cx="627.3" cy="1617.0" r="8.5" fill="#3b55b0"/>
<circle cx="464.7" cy="1644.3" r="8.5" fill="#752996"/>
<circle cx="615.0" cy="1657.3" r="8.5" fill="#3340a0"/>
<circle cx="627.3" cy="1667.3" r="8.5" fill="#3a2f9a"/>
<circle cx="405.0" cy="1682.3" r="8.5" fill="#7d2894"/>
<circle cx="500.0" cy="1676.0" r="8.5" fill="#3345a5"/>
<circle cx="558.3" cy="1682.7" r="8.5" fill="#3346a6"/>
<circle cx="388.3" cy="1718.3" r="8.5" fill="#3345a5"/>
<circle cx="460.0" cy="1718.0" r="8.5" fill="#5e2d9a"/>
<circle cx="511.7" cy="1718.3" r="8.5" fill="#2f3a9f"/>
<circle cx="509.3" cy="1740.3" r="8.5" fill="#2d3596"/>
<circle cx="388.3" cy="1772.7" r="8.5" fill="#14a7a0"/>
<circle cx="423.3" cy="1766.7" r="8.5" fill="#2f8ccf"/>
<circle cx="462.7" cy="1773.7" r="8.5" fill="#2f8ccf"/>
<circle cx="462.7" cy="1791.0" r="8.5" fill="#2e7bc4"/>
<circle cx="509.7" cy="1812.3" r="8.5" fill="#3345a0"/>
<circle cx="423.3" cy="1834.0" r="8.5" fill="#25a0dc"/>
</g>
<line x1="166.3" y1="1857.6" x2="742.7" y2="1523.3" stroke="#1c75b6" stroke-width="4.2" stroke-linecap="square"/>
<rect x="137.2" y="1366.4" width="634.7" height="515.3999999999999" fill="none" stroke="#000" stroke-width="1.9"/>
<line x1="166.0" y1="1881.8" x2="166.0" y2="1890.6" stroke="#000" stroke-width="1.9"/>
<text transform="translate(166.0,1916.1) scale(1.035,1)" text-anchor="middle" font-size="22.8" fill="#000" stroke="#000" stroke-width="0.25">0</text>
<line x1="313.0" y1="1881.8" x2="313.0" y2="1890.6" stroke="#000" stroke-width="1.9"/>
<text transform="translate(313.0,1916.1) scale(1.035,1)" text-anchor="middle" font-size="22.8" fill="#000" stroke="#000" stroke-width="0.25">10</text>
<line x1="460.0" y1="1881.8" x2="460.0" y2="1890.6" stroke="#000" stroke-width="1.9"/>
<text transform="translate(460.0,1916.1) scale(1.035,1)" text-anchor="middle" font-size="22.8" fill="#000" stroke="#000" stroke-width="0.25">20</text>
<line x1="607.0" y1="1881.8" x2="607.0" y2="1890.6" stroke="#000" stroke-width="1.9"/>
<text transform="translate(607.0,1916.1) scale(1.035,1)" text-anchor="middle" font-size="22.8" fill="#000" stroke="#000" stroke-width="0.25">30</text>
<line x1="754.0" y1="1881.8" x2="754.0" y2="1890.6" stroke="#000" stroke-width="1.9"/>
<text transform="translate(754.0,1916.1) scale(1.035,1)" text-anchor="middle" font-size="22.8" fill="#000" stroke="#000" stroke-width="0.25">40</text>
<line x1="128.39999999999998" y1="1857.5" x2="137.2" y2="1857.5" stroke="#000" stroke-width="1.9"/>
<text transform="translate(119.19999999999999,1866.0) scale(1.035,1)" text-anchor="end" font-size="22.8" fill="#000" stroke="#000" stroke-width="0.25">0</text>
<line x1="128.39999999999998" y1="1777.2" x2="137.2" y2="1777.2" stroke="#000" stroke-width="1.9"/>
<text transform="translate(119.19999999999999,1785.8) scale(1.035,1)" text-anchor="end" font-size="22.8" fill="#000" stroke="#000" stroke-width="0.25">5000</text>
<line x1="128.39999999999998" y1="1697.0" x2="137.2" y2="1697.0" stroke="#000" stroke-width="1.9"/>
<text transform="translate(119.19999999999999,1705.5) scale(1.035,1)" text-anchor="end" font-size="22.8" fill="#000" stroke="#000" stroke-width="0.25">10000</text>
<line x1="128.39999999999998" y1="1616.8" x2="137.2" y2="1616.8" stroke="#000" stroke-width="1.9"/>
<text transform="translate(119.19999999999999,1625.2) scale(1.035,1)" text-anchor="end" font-size="22.8" fill="#000" stroke="#000" stroke-width="0.25">15000</text>
<line x1="128.39999999999998" y1="1536.5" x2="137.2" y2="1536.5" stroke="#000" stroke-width="1.9"/>
<text transform="translate(119.19999999999999,1545.0) scale(1.035,1)" text-anchor="end" font-size="22.8" fill="#000" stroke="#000" stroke-width="0.25">20000</text>
<line x1="128.39999999999998" y1="1456.2" x2="137.2" y2="1456.2" stroke="#000" stroke-width="1.9"/>
<text transform="translate(119.19999999999999,1464.8) scale(1.035,1)" text-anchor="end" font-size="22.8" fill="#000" stroke="#000" stroke-width="0.25">25000</text>
<line x1="128.39999999999998" y1="1376.0" x2="137.2" y2="1376.0" stroke="#000" stroke-width="1.9"/>
<text transform="translate(119.19999999999999,1384.5) scale(1.035,1)" text-anchor="end" font-size="22.8" fill="#000" stroke="#000" stroke-width="0.25">30000</text>
<text transform="translate(455.4,1951.6) scale(1.035,1)" text-anchor="middle" font-size="22.8" fill="#000" stroke="#000" stroke-width="0.25">Laminaria biomass [<tspan font-style="italic">kg m</tspan><tspan dy="-9" font-size="16.0">−2</tspan><tspan dy="9">]</tspan></text>
<text transform="translate(29.5,1624) rotate(-90) scale(1.055,1)" text-anchor="middle" font-size="22.8" fill="#000" stroke="#000" stroke-width="0.25"><tspan font-style="italic">NASC</tspan>-value [<tspan font-style="italic">m</tspan><tspan dy="-9" font-size="16.0">2</tspan><tspan dy="9" font-style="italic"> nmi</tspan><tspan dy="-9" font-size="16.0">−2</tspan><tspan dy="9">]</tspan></text>
<rect x="143.9" y="1375.6" width="78.6" height="74.4" fill="#f7f7fa" stroke="#000" stroke-width="3.3"/>
<text x="175.9" y="1422.5" text-anchor="middle" font-family="'Liberation Sans',Arial,sans-serif" font-weight="bold" font-size="28.8" fill="#000">C</text>
<defs><linearGradient id="gradC" x1="0" y1="0" x2="0" y2="1">
<stop offset="0.0000" stop-color="#dcc8cc"/>
<stop offset="0.0036" stop-color="#d8c0c4"/>
<stop offset="0.0224" stop-color="#d06068"/>
<stop offset="0.0385" stop-color="#d42028"/>
<stop offset="0.0546" stop-color="#d02028"/>
<stop offset="0.0894" stop-color="#e02028"/>
<stop offset="0.1216" stop-color="#ee2028"/>
<stop offset="0.1565" stop-color="#ec2028"/>
<stop offset="0.1779" stop-color="#e84828"/>
<stop offset="0.1913" stop-color="#f07020"/>
<stop offset="0.2074" stop-color="#f8981c"/>
<stop offset="0.2316" stop-color="#fcb814"/>
<stop offset="0.2530" stop-color="#fed808"/>
<stop offset="0.2691" stop-color="#fae810"/>
<stop offset="0.2932" stop-color="#f0ec20"/>
<stop offset="0.3120" stop-color="#e0e420"/>
<stop offset="0.3334" stop-color="#cce030"/>
<stop offset="0.3522" stop-color="#b0d838"/>
<stop offset="0.3710" stop-color="#88c840"/>
<stop offset="0.3951" stop-color="#68bc44"/>
<stop offset="0.4273" stop-color="#60b848"/>
<stop offset="0.4621" stop-color="#50b448"/>
<stop offset="0.4970" stop-color="#3cb44c"/>
<stop offset="0.5131" stop-color="#30b050"/>
<stop offset="0.5319" stop-color="#24a84c"/>
<stop offset="0.5506" stop-color="#1a9e48"/>
<stop offset="0.5748" stop-color="#1ca050"/>
<stop offset="0.5935" stop-color="#18a880"/>
<stop offset="0.6203" stop-color="#14a898"/>
<stop offset="0.6445" stop-color="#14a8a8"/>
<stop offset="0.6686" stop-color="#18a8c8"/>
<stop offset="0.6847" stop-color="#1ca0dc"/>
<stop offset="0.7008" stop-color="#2898d8"/>
<stop offset="0.7222" stop-color="#2c84c8"/>
<stop offset="0.7464" stop-color="#3070c0"/>
<stop offset="0.7625" stop-color="#3c5cb0"/>
<stop offset="0.7893" stop-color="#3850a8"/>
<stop offset="0.8161" stop-color="#3448a4"/>
<stop offset="0.8402" stop-color="#2c3c9c"/>
<stop offset="0.8590" stop-color="#303098"/>
<stop offset="0.8724" stop-color="#442c98"/>
<stop offset="0.8858" stop-color="#6c2c98"/>
<stop offset="0.9019" stop-color="#8c2890"/>
<stop offset="0.9260" stop-color="#802890"/>
<stop offset="0.9528" stop-color="#7a2a88"/>
<stop offset="0.9636" stop-color="#5a2068"/>
<stop offset="0.9735" stop-color="#3a1445"/>
<stop offset="0.9855" stop-color="#1f0c24"/>
<stop offset="0.9955" stop-color="#0a070a"/>
<stop offset="0.9992" stop-color="#060606"/>
</linearGradient></defs>
<rect x="811.9" y="1366.6" width="25.300000000000068" height="515.2" fill="url(#gradC)" stroke="#000" stroke-width="2"/>
<line x1="837.2" y1="1857.5" x2="845.8000000000001" y2="1857.5" stroke="#000" stroke-width="1.9"/>
<text transform="translate(854.4000000000001,1866.0) scale(1.0,1)" text-anchor="start" font-size="22.8" fill="#000" stroke="#000" stroke-width="0.25">5</text>
<line x1="837.2" y1="1788.4" x2="845.8000000000001" y2="1788.4" stroke="#000" stroke-width="1.9"/>
<text transform="translate(854.4000000000001,1796.9) scale(1.0,1)" text-anchor="start" font-size="22.8" fill="#000" stroke="#000" stroke-width="0.25">10</text>
<line x1="837.2" y1="1719.4" x2="845.8000000000001" y2="1719.4" stroke="#000" stroke-width="1.9"/>
<text transform="translate(854.4000000000001,1727.9) scale(1.0,1)" text-anchor="start" font-size="22.8" fill="#000" stroke="#000" stroke-width="0.25">15</text>
<line x1="837.2" y1="1650.3" x2="845.8000000000001" y2="1650.3" stroke="#000" stroke-width="1.9"/>
<text transform="translate(854.4000000000001,1658.8) scale(1.0,1)" text-anchor="start" font-size="22.8" fill="#000" stroke="#000" stroke-width="0.25">20</text>
<line x1="837.2" y1="1581.2" x2="845.8000000000001" y2="1581.2" stroke="#000" stroke-width="1.9"/>
<text transform="translate(854.4000000000001,1589.7) scale(1.0,1)" text-anchor="start" font-size="22.8" fill="#000" stroke="#000" stroke-width="0.25">25</text>
<line x1="837.2" y1="1512.1" x2="845.8000000000001" y2="1512.1" stroke="#000" stroke-width="1.9"/>
<text transform="translate(854.4000000000001,1520.6) scale(1.0,1)" text-anchor="start" font-size="22.8" fill="#000" stroke="#000" stroke-width="0.25">30</text>
<line x1="837.2" y1="1443.1" x2="845.8000000000001" y2="1443.1" stroke="#000" stroke-width="1.9"/>
<text transform="translate(854.4000000000001,1451.6) scale(1.0,1)" text-anchor="start" font-size="22.8" fill="#000" stroke="#000" stroke-width="0.25">35</text>
<line x1="837.2" y1="1374.0" x2="845.8000000000001" y2="1374.0" stroke="#000" stroke-width="1.9"/>
<text transform="translate(854.4000000000001,1382.5) scale(1.0,1)" text-anchor="start" font-size="22.8" fill="#000" stroke="#000" stroke-width="0.25">40</text>
<text transform="translate(860.5,1343.4) scale(1.035,1)" text-anchor="middle" font-size="22.8" fill="#000" stroke="#000" stroke-width="0.25">Station depth</text>
</g>
</svg>
</body></html>
